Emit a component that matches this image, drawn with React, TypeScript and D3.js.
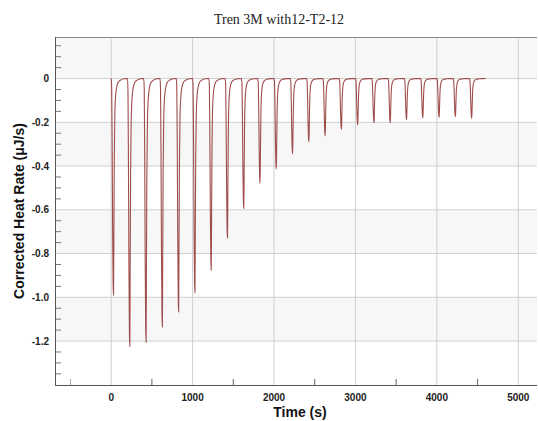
import React from "react";
import * as d3 from "d3";

const title = "Tren 3M with12-T2-12";
const xLabel = "Time (s)";
const yLabel = "Corrected Heat Rate (μJ/s)";

const xMajorTicks = [0, 1000, 2000, 3000, 4000, 5000];
const xMinorTicks = [-500, 500, 1500, 2500, 3500, 4500];
const yMajorTicks = [0, -0.2, -0.4, -0.6, -0.8, -1.0, -1.2];
const yMinorTicks = [0.15, 0.1, 0.05, -0.05, -0.1, -0.15, -0.25, -0.3, -0.35, -0.45, -0.5, -0.55, -0.65, -0.7, -0.75, -0.85, -0.9, -0.95, -1.05, -1.1, -1.15, -1.25, -1.3, -1.35];
const bands = [[0.19, 0], [-0.2, -0.4], [-0.6, -0.8], [-1.0, -1.2]];

// injection start times (s) and peak minimum (µJ/s)
const injectionTimes = [0, 200, 400, 600, 800, 1000, 1200, 1400, 1600, 1800, 2000, 2200, 2400, 2600, 2800, 3000, 3200, 3400, 3600, 3800, 4000, 4200, 4400];
const peakDepths = [-0.99, -1.225, -1.206, -1.136, -1.067, -0.979, -0.876, -0.729, -0.594, -0.479, -0.413, -0.344, -0.288, -0.262, -0.233, -0.211, -0.202, -0.202, -0.188, -0.180, -0.178, -0.174, -0.182];
// peak profile: time after injection (s) and fraction of peak depth
const profileOffsets = [0, 6, 12, 18, 24, 29, 33, 38, 45, 55, 70, 90, 120, 160, 199];
const profileFractions = [0, 0.04, 0.3, 0.7, 0.95, 1, 0.72, 0.38, 0.17, 0.08, 0.035, 0.015, 0.006, 0.001, 0];

const W = 538, H = 421;
const L = 55, R = 537, T = 37, B = 385;

export default function App() {
  const x = d3.scaleLinear().domain([-690, 5230]).range([L, R]);
  const y = d3.scaleLinear().domain([-1.401, 0.19]).range([B, T]);

  const pts: [number, number][] = [];
  injectionTimes.forEach((t0, i) => {
    profileOffsets.forEach((o, j) => {
      pts.push([t0 + o, profileFractions[j] * peakDepths[i]]);
    });
  });
  const line = d3.line<[number, number]>().x(d => x(d[0])).y(d => y(d[1])).curve(d3.curveMonotoneX);

  const sans = "'Liberation Sans', Arial, sans-serif";

  return (
    <svg width={W} height={H} style={{ position: "absolute", left: 0, top: 0, display: "block" }}>
      <rect x={0} y={0} width={W} height={H} fill="#fff" />
      <defs>
        <clipPath id="plot">
          <rect x={L} y={T} width={R - L} height={B - T} />
        </clipPath>
      </defs>
      {bands.map((b, i) => (
        <rect key={i} x={L} y={y(b[0])} width={R - L} height={y(b[1]) - y(b[0])} fill="#f7f7f7" />
      ))}
      {yMajorTicks.map(v => (
        <line key={v} x1={L} x2={R} y1={y(v)} y2={y(v)} stroke="#cfcfcf" strokeWidth={1} />
      ))}
      {xMajorTicks.map(v => (
        <line key={v} x1={x(v)} x2={x(v)} y1={T} y2={B} stroke="#cfcfcf" strokeWidth={1} />
      ))}
      <line x1={L} x2={R} y1={T + 0.5} y2={T + 0.5} stroke="#8a8a8a" strokeWidth={1} />
      <g clipPath="url(#plot)">
        <path d={line(pts) || ""} fill="none" stroke="#963a3a" strokeWidth={1.1} strokeOpacity={0.9} />
      </g>
      {yMinorTicks.map(v => (
        <line key={v} x1={L} x2={L + 6} y1={y(v)} y2={y(v)} stroke="#777" strokeWidth={1} />
      ))}
      {xMinorTicks.map(v => (
        <line key={v} x1={x(v)} x2={x(v)} y1={B} y2={B - 6} stroke={v < 0 ? "#aaa" : "#666"} strokeWidth={1} />
      ))}
      <line x1={L + 0.5} x2={L + 0.5} y1={T} y2={B} stroke="#555" strokeWidth={1} />
      <line x1={L} x2={R} y1={B + 0.5} y2={B + 0.5} stroke="#555" strokeWidth={1} />
      {yMajorTicks.map(v => (
        <text key={v} x={49} y={y(v)} dy="0.35em" textAnchor="end" fontFamily={sans} fontWeight="bold" fontSize={10} fill="#222">
          {v === 0 ? "0" : d3.format(".1f")(v).replace("−", "-")}
        </text>
      ))}
      {xMajorTicks.map(v => (
        <text key={v} x={x(v)} y={401} textAnchor="middle" fontFamily={sans} fontWeight="bold" fontSize={10} fill="#222">
          {String(v)}
        </text>
      ))}
      <text x={300} y={417} textAnchor="middle" fontFamily={sans} fontWeight="bold" fontSize={14} fill="#111">{xLabel}</text>
      <text transform={`translate(24,${(T + B) / 2}) rotate(-90)`} textAnchor="middle" fontFamily={sans} fontWeight="bold" fontSize={14} fill="#111">{yLabel}</text>
      <text x={279} y={24} textAnchor="middle" fontFamily="'Liberation Serif', 'Times New Roman', serif" fontSize={14} fill="#222">{title}</text>
    </svg>
  );
}
